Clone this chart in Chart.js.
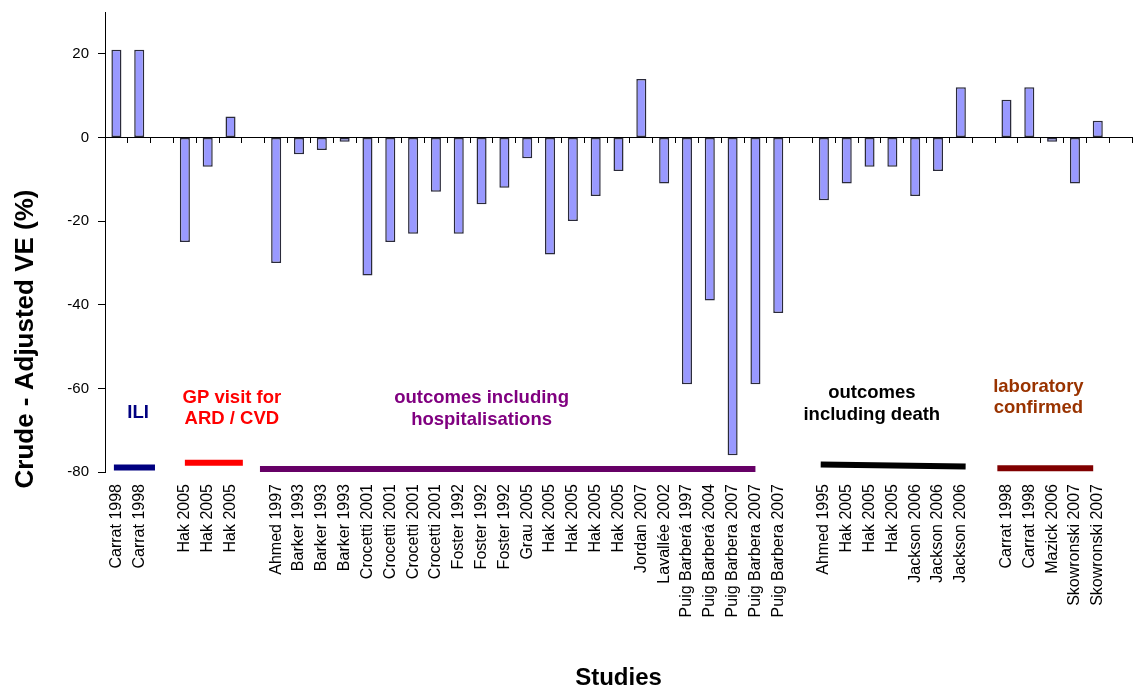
<!DOCTYPE html>
<html>
<head>
<meta charset="utf-8">
<title>Crude - Adjusted VE</title>
<script src="https://cdn.jsdelivr.net/npm/chart.js@4/dist/chart.umd.min.js"></script>
<style>
  html, body { margin: 0; padding: 0; background: #fff; }
  #wrap { width: 1136px; height: 690px; }
</style>
</head>
<body>
<div id="wrap"><canvas id="c" width="1136" height="690"></canvas></div>
<script>
// Studies along the x axis (empty strings separate the outcome groups)
const studies = [
  'Carrat 1998', 'Carrat 1998', '',
  'Hak 2005', 'Hak 2005', 'Hak 2005', '',
  'Ahmed 1997', 'Barker 1993', 'Barker 1993', 'Barker 1993',
  'Crocetti 2001', 'Crocetti 2001', 'Crocetti 2001', 'Crocetti 2001',
  'Foster 1992', 'Foster 1992', 'Foster 1992', 'Grau 2005',
  'Hak 2005', 'Hak 2005', 'Hak 2005', 'Hak 2005',
  'Jordan 2007', 'Lavallée 2002',
  'Puig Barberá 1997', 'Puig Barberá 2004',
  'Puig Barbera 2007', 'Puig Barbera 2007', 'Puig Barbera 2007', '',
  'Ahmed 1995', 'Hak 2005', 'Hak 2005', 'Hak 2005',
  'Jackson 2006', 'Jackson 2006', 'Jackson 2006', '',
  'Carrat 1998', 'Carrat 1998', 'Mazick 2006',
  'Skowronski 2007', 'Skowronski 2007', ''
];

// Crude minus adjusted vaccine effectiveness, in percentage points
const veDifference = [
  21, 21, null,
  -25, -7, 5, null,
  -30, -4, -3, -1,
  -33, -25, -23, -13,
  -23, -16, -12, -5,
  -28, -20, -14, -8,
  14, -11,
  -59, -39,
  -76, -59, -42, null,
  -15, -11, -7, -7,
  -14, -8, 12, null,
  9, 12, -1,
  -11, 4, null
];

// Value axis range and tick step
const yMin = -80;
const yMax = 30;
const yStep = 20;

// Outcome groups: caption lines, caption anchor and underline span
// (x in category index units, y in axis units)
const groupCaptions = [
  ['ILI'],
  ['GP visit for', 'ARD / CVD'],
  ['outcomes including', 'hospitalisations'],
  ['outcomes', 'including death'],
  ['laboratory', 'confirmed']
];
const captionX = [0.95, 5.06, 16.0, 33.1, 40.4];
const captionY = [-65.8, -62.2, -62.4, -61.2, -59.6];
const underlineFrom = [-0.11, 3.0, 6.29, 30.86, 38.6];
const underlineTo = [1.69, 5.54, 28.0, 37.21, 42.8];
const underlineYFrom = [-78.9, -77.8, -79.3, -78.2, -79.1];
const underlineYTo = [-78.9, -77.8, -79.3, -78.7, -79.1];
const captionColors = ['#000080', '#ff0000', '#800080', '#000000', '#993300'];
const underlineColors = ['#000080', '#ff0000', '#660066', '#000000', '#800000'];

const FONT = "'Liberation Sans', Arial, Helvetica, sans-serif";
Chart.defaults.font.family = FONT;
Chart.defaults.color = '#000';

// Group captions and their underlines, placed through the chart scales
const groupPlugin = {
  id: 'groupCaptions',
  afterDatasetsDraw(chart) {
    const ctx = chart.ctx;
    const xs = chart.scales.x;
    const ys = chart.scales.y;
    ctx.save();
    groupCaptions.forEach((lines, g) => {
      ctx.strokeStyle = underlineColors[g];
      ctx.lineWidth = 6;
      ctx.lineCap = 'butt';
      ctx.beginPath();
      ctx.moveTo(xs.getPixelForValue(underlineFrom[g]), ys.getPixelForValue(underlineYFrom[g]));
      ctx.lineTo(xs.getPixelForValue(underlineTo[g]), ys.getPixelForValue(underlineYTo[g]));
      ctx.stroke();

      ctx.fillStyle = captionColors[g];
      ctx.font = 'bold 18.5px ' + FONT;
      ctx.textAlign = 'center';
      ctx.textBaseline = 'middle';
      const cx = xs.getPixelForValue(captionX[g]);
      const cy = ys.getPixelForValue(captionY[g]);
      lines.forEach((t, k) => ctx.fillText(t, cx, cy + k * 21.5));
    });
    ctx.restore();
  }
};

// Vertical axis title, centred on the canvas height
const yTitlePlugin = {
  id: 'yTitle',
  afterDraw(chart) {
    const ctx = chart.ctx;
    ctx.save();
    ctx.translate(26, 339);
    ctx.rotate(-Math.PI / 2);
    ctx.font = 'bold 26px ' + FONT;
    ctx.fillStyle = '#000';
    ctx.textAlign = 'center';
    ctx.textBaseline = 'middle';
    ctx.fillText('Crude - Adjusted VE (%)', 0, 0);
    ctx.restore();
  }
};

new Chart(document.getElementById('c'), {
  type: 'bar',
  data: {
    labels: studies,
    datasets: [{
      data: veDifference,
      backgroundColor: '#9999ff',
      borderColor: '#2a2a3a',
      borderWidth: 1.5,
      borderSkipped: false,
      barPercentage: 0.44,
      categoryPercentage: 1.0,
      xAxisID: 'x',
      yAxisID: 'y'
    }]
  },
  options: {
    responsive: false,
    animation: false,
    devicePixelRatio: 1,
    layout: { padding: { top: 12, right: 4, left: 0, bottom: 0 } },
    plugins: {
      legend: { display: false },
      tooltip: { enabled: false }
    },
    scales: {
      x: {
        type: 'category',
        position: 'bottom',
        offset: true,
        grid: { display: false, drawTicks: false },
        border: { display: false },
        ticks: {
          autoSkip: false,
          minRotation: 90,
          maxRotation: 90,
          padding: 12,
          font: { size: 16 },
          color: '#000'
        },
        title: {
          display: true,
          text: 'Studies',
          font: { size: 24, weight: 'bold', lineHeight: 1 },
          padding: { top: 0, bottom: 0 },
          color: '#000'
        },
        afterFit(scale) {
          scale.height = 218;
          scale.paddingLeft = 0;
          scale.paddingRight = 0;
        }
      },
      xZero: {
        type: 'category',
        axis: 'x',
        position: { y: 0 },
        offset: true,
        grid: {
          offset: true,
          drawOnChartArea: false,
          drawTicks: true,
          tickLength: 5,
          color: '#000',
          lineWidth: 1
        },
        border: { display: true, color: '#000', width: 1 },
        ticks: { display: false, autoSkip: false },
        afterFit(scale) {
          scale.paddingLeft = 0;
          scale.paddingRight = 0;
        }
      },
      y: {
        type: 'linear',
        position: 'left',
        min: yMin,
        max: yMax,
        grid: {
          drawOnChartArea: false,
          drawTicks: true,
          tickLength: 7,
          color: '#000',
          lineWidth: 1
        },
        border: { display: true, color: '#000', width: 1 },
        ticks: {
          stepSize: yStep,
          includeBounds: false,
          padding: 9,
          font: { size: 15 },
          color: '#000'
        },
        afterFit(scale) {
          scale.width = 105;
          scale.paddingTop = 0;
          scale.paddingBottom = 0;
        }
      }
    }
  },
  plugins: [groupPlugin, yTitlePlugin]
});
</script>
</body>
</html>
